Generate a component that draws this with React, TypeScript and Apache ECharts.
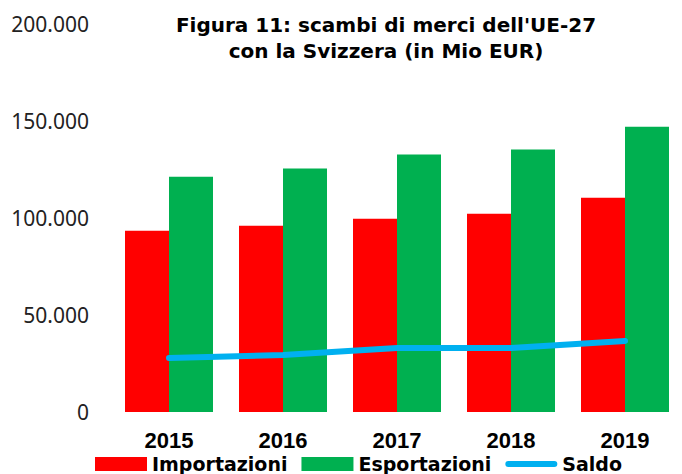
import React, { useEffect, useRef } from "react";
import * as echarts from "echarts";

const years = ["2015", "2016", "2017", "2018", "2019"];
const importazioni = [93300, 95900, 99500, 102100, 110300];
const esportazioni = [121100, 125300, 132500, 135100, 146900];
const saldo = [27800, 29400, 33000, 33000, 36600];
const yTicks = { min: 0, max: 200000, interval: 50000 };

const fmt = (v: number) => String(v).replace(/\B(?=(\d{3})+(?!\d))/g, ".");

export default function App() {
  const ref = useRef<HTMLDivElement>(null);
  useEffect(() => {
    if (!ref.current) return;
    const chart = echarts.init(ref.current, null, { renderer: "svg" });
    chart.setOption({
      animation: false,
      backgroundColor: "#ffffff",
      graphic: [
        {
          type: "text",
          x: 386,
          y: 11.5,
          style: {
            text: "Figura 11: scambi di merci dell'UE-27\ncon la Svizzera (in Mio EUR)",
            textAlign: "center",
            textVerticalAlign: "top",
            fontFamily: "DejaVu Sans",
            fontWeight: "bold",
            fontSize: 20,
            lineHeight: 26,
            fill: "#000000",
          },
        },
      ],
      grid: { left: 112, top: 23.5, width: 588, bottom: 62 },
      legend: {
        left: 90,
        top: 449,
        itemWidth: 52,
        itemHeight: 14,
        itemGap: 14,
        textStyle: {
          fontFamily: "DejaVu Sans",
          fontWeight: "bold",
          fontSize: 19,
          lineHeight: 20,
          color: "#000",
        },
        data: [
          { name: "Importazioni", icon: "rect" },
          { name: "Esportazioni", icon: "rect" },
          { name: "Saldo", icon: "path://M3,0 L49,0 A3,3 0 0 1 49,6 L3,6 A3,3 0 0 1 3,0 Z" },
        ],
      },
      xAxis: {
        type: "category",
        data: years,
        axisLine: { show: false },
        axisTick: { show: false },
        axisLabel: {
          margin: 17,
          fontFamily: "Liberation Sans",
          fontWeight: "bold",
          fontSize: 22,
          color: "#000",
        },
      },
      yAxis: {
        type: "value",
        min: yTicks.min,
        max: yTicks.max,
        interval: yTicks.interval,
        splitLine: { show: false },
        axisLine: { show: false },
        axisTick: { show: false },
        axisLabel: {
          margin: 23,
          fontFamily: "Noto Sans",
          fontSize: 21,
          color: "#222",
          formatter: (v: number) => fmt(v),
        },
      },
      series: [
        {
          name: "Importazioni",
          type: "bar",
          data: importazioni,
          barGap: "0%",
          barWidth: 44,
          itemStyle: { color: "#FF0000" },
        },
        {
          name: "Esportazioni",
          type: "bar",
          data: esportazioni,
          barWidth: 44,
          itemStyle: { color: "#00B050" },
        },
        {
          name: "Saldo",
          type: "line",
          data: saldo,
          symbol: "none",
          itemStyle: { color: "#00B0F0" },
          lineStyle: { color: "#00B0F0", width: 6, cap: "round", join: "round" },
        },
      ],
    });
    return () => chart.dispose();
  }, []);
  return <div ref={ref} style={{ width: 682, height: 474, position: "absolute", left: 0, top: 0 }} />;
}
